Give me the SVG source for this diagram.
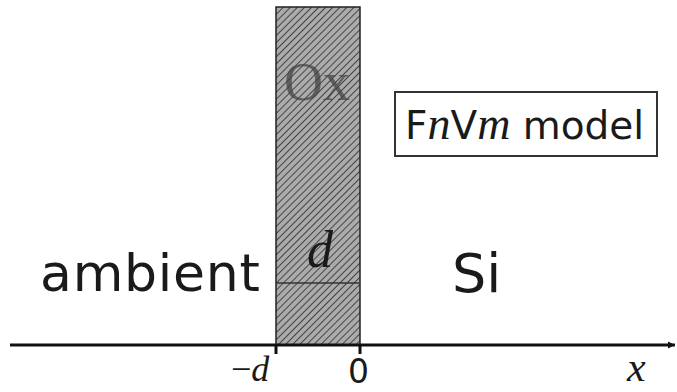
<svg xmlns="http://www.w3.org/2000/svg" width="677" height="392" viewBox="0 0 677 392">
<defs>
<style>
.sans{font-family:"DejaVu Sans","Liberation Sans",sans-serif;fill:#1a1a1a}
.it{font-family:"Liberation Serif","DejaVu Serif",serif;font-style:italic;fill:#1a1a1a}
.ax{stroke:#111;stroke-width:3;fill:none}
</style>
<pattern id="hatch" width="5" height="5" patternUnits="userSpaceOnUse" patternTransform="rotate(45)">
<rect width="5" height="5" fill="#ababab"/>
<line x1="0" y1="0" x2="0" y2="5" stroke="#444" stroke-width="2"/>
</pattern>
<marker id="arr" markerWidth="8" markerHeight="8" refX="7" refY="4" orient="auto" markerUnits="userSpaceOnUse">
<path d="M0,0.5 L7,4 L0,7.5 Z" fill="#111"/>
</marker>
</defs>
<rect width="677" height="392" fill="#fff"/>
<g id="oxide">
<rect x="276" y="7" width="84" height="338" fill="url(#hatch)" stroke="#222" stroke-width="1.5"/>
<line x1="277" y1="283" x2="359" y2="283" stroke="#333" stroke-width="1.5"/>
<text x="317" y="100" text-anchor="middle" font-family="Liberation Serif,serif" font-size="54" fill="#444" opacity="0.75">Ox</text>
<text x="320" y="267" text-anchor="middle" class="it" font-size="52">d</text>
</g>
<g id="model">
<rect x="395" y="92" width="262" height="64" fill="#fff" stroke="#333" stroke-width="2"/>
<text x="405" y="139" class="sans" font-size="39">F<tspan class="it" font-size="46">n</tspan>V<tspan class="it" font-size="46">m</tspan> model</text>
</g>
<g id="ambient"><text x="40" y="291" class="sans" font-size="52" textLength="220">ambient</text></g>
<g id="si"><text x="452" y="292" class="sans" font-size="54">Si</text></g>
<g id="connectors">
<line x1="10" y1="345" x2="675" y2="345" class="ax" marker-end="url(#arr)"/>
<line x1="276" y1="345" x2="276" y2="354" class="ax"/>
<line x1="360" y1="345" x2="360" y2="354" class="ax"/>
</g>
<g id="labels">
<text x="231" y="381" class="it" font-size="36"><tspan font-style="normal">−</tspan>d</text>
<text x="348" y="383" class="sans" font-size="33">0</text>
<text x="627" y="381" class="it" font-size="42">x</text>
</g>
</svg>
